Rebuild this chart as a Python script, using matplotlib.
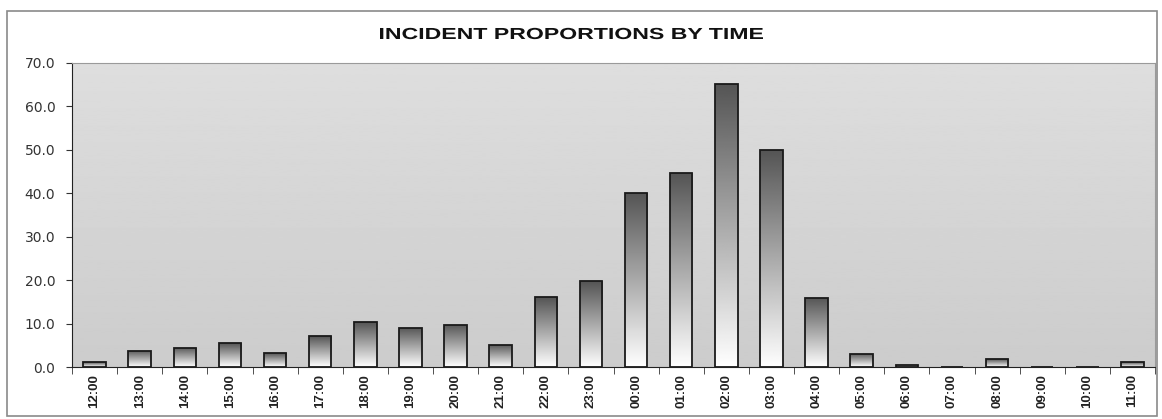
import numpy as np
import matplotlib.pyplot as plt
from matplotlib.patches import Rectangle, PathPatch
from matplotlib.textpath import TextPath
from matplotlib.font_manager import FontProperties
from matplotlib.transforms import Affine2D, IdentityTransform

# data
hours = ["12:00", "13:00", "14:00", "15:00", "16:00", "17:00", "18:00", "19:00",
         "20:00", "21:00", "22:00", "23:00", "00:00", "01:00", "02:00", "03:00",
         "04:00", "05:00", "06:00", "07:00", "08:00", "09:00", "10:00", "11:00"]
proportion = [1.1, 3.7, 4.4, 5.5, 3.2, 7.1, 10.3, 9.0,
              9.7, 5.1, 16.1, 19.8, 40.1, 44.7, 65.2, 50.0,
              15.9, 3.0, 0.5, 0.0, 1.8, 0.0, 0.0, 1.1]
yticks = np.arange(0, 71, 10)
title = "INCIDENT PROPORTIONS BY TIME"

W, H = 1162, 419
fig = plt.figure(figsize=(W/100, H/100), dpi=100)
ax = fig.add_axes([72/W, 1 - 367/H, (1155 - 72)/W, (367 - 63)/H])

# outer chart frame
fig.patches.append(Rectangle((7/W, 3/H), 1150/W, 405/H, transform=fig.transFigure,
                             fill=False, edgecolor="#8a8a8a", linewidth=1.2))

x = np.arange(len(hours))

# plot area gradient
bg = np.linspace(0.80, 0.87, 256).reshape(-1, 1)
ax.imshow(bg, extent=[-0.5, len(hours) - 0.5, 0, 70], origin="lower", cmap="gray",
          vmin=0, vmax=1, aspect="auto", zorder=0)

# bars with dark-to-white gradient
grad = np.linspace(1.0, 0.33, 256).reshape(-1, 1)
bars = ax.bar(x, proportion, width=0.5, facecolor="none", edgecolor="#1a1a1a",
              linewidth=1.3, zorder=3)
for b, v in zip(bars, proportion):
    if v <= 0:
        continue
    x0 = b.get_x()
    im = ax.imshow(grad, extent=[x0, x0 + b.get_width(), 0, v], origin="lower",
                   cmap="gray", vmin=0, vmax=1, aspect="auto", zorder=2)
    im.set_clip_path(b)
ax.set_xlim(-0.5, len(hours) - 0.5)
ax.set_ylim(0, 70)

ax.set_yticks(yticks)
ax.set_yticklabels([f"{t:.1f}" for t in yticks], fontsize=10, color="#333333")
ax.set_xticks(x)
ax.set_xticklabels(hours, rotation=90, fontsize=9.5, fontweight="bold", color="#222222",
                   family="Liberation Sans")
ax.set_xticks(np.arange(-0.5, len(hours), 1), minor=True)
ax.tick_params(axis="x", which="major", length=0, pad=5)
ax.tick_params(axis="x", which="minor", length=5, color="#333333", direction="out")
ax.tick_params(axis="y", length=4, color="#333333", pad=8)

for s in ["top", "right"]:
    ax.spines[s].set_color("#9a9a9a")
ax.spines["left"].set_color("#222222")
ax.spines["bottom"].set_color("#222222")

# title, stretched wide like the original
tp = TextPath((0, 0), title, size=16, prop=FontProperties(family="Liberation Sans", weight="bold"))
ext = tp.get_extents()
sx = (763 - 380) / ext.width
tr = Affine2D().translate(-ext.x0, 0).scale(sx, 1).translate(380, H - 39)
fig.patches.append(PathPatch(tr.transform_path(tp), transform=IdentityTransform(),
                             facecolor="#111111", edgecolor="none"))

fig.savefig("out.png", dpi=100)
